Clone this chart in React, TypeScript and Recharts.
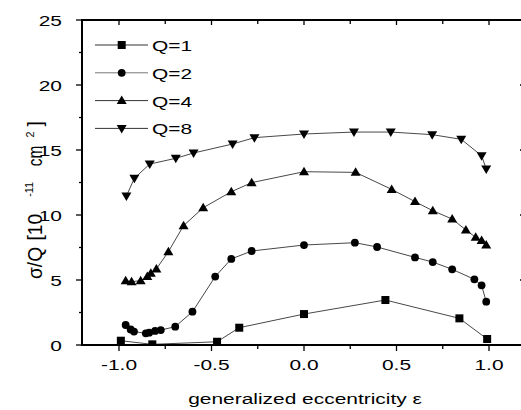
import { LineChart, Line, XAxis, YAxis } from "recharts";

// generalized eccentricity vs sigma/Q, one list per charge state
const q1 = [
  { e: -0.99, s: 0.33 },
  { e: -0.82, s: 0.05 },
  { e: -0.47, s: 0.25 },
  { e: -0.35, s: 1.33 },
  { e: 0.0, s: 2.38 },
  { e: 0.44, s: 3.46 },
  { e: 0.84, s: 2.05 },
  { e: 0.99, s: 0.46 },
];

const q2 = [
  { e: -0.964, s: 1.54 },
  { e: -0.937, s: 1.2 },
  { e: -0.919, s: 1.03 },
  { e: -0.855, s: 0.9 },
  { e: -0.837, s: 0.95 },
  { e: -0.805, s: 1.08 },
  { e: -0.774, s: 1.15 },
  { e: -0.696, s: 1.41 },
  { e: -0.603, s: 2.56 },
  { e: -0.48, s: 5.26 },
  { e: -0.393, s: 6.62 },
  { e: -0.283, s: 7.23 },
  { e: 0.0, s: 7.69 },
  { e: 0.275, s: 7.87 },
  { e: 0.395, s: 7.54 },
  { e: 0.6, s: 6.74 },
  { e: 0.696, s: 6.38 },
  { e: 0.801, s: 5.82 },
  { e: 0.921, s: 5.05 },
  { e: 0.96, s: 4.59 },
  { e: 0.985, s: 3.33 },
];

const q4 = [
  { e: -0.964, s: 4.95 },
  { e: -0.932, s: 4.87 },
  { e: -0.883, s: 4.95 },
  { e: -0.847, s: 5.26 },
  { e: -0.828, s: 5.51 },
  { e: -0.798, s: 5.85 },
  { e: -0.733, s: 7.18 },
  { e: -0.651, s: 9.18 },
  { e: -0.545, s: 10.56 },
  { e: -0.393, s: 11.79 },
  { e: -0.283, s: 12.49 },
  { e: 0.0, s: 13.33 },
  { e: 0.279, s: 13.28 },
  { e: 0.474, s: 11.97 },
  { e: 0.6, s: 11.03 },
  { e: 0.696, s: 10.33 },
  { e: 0.801, s: 9.69 },
  { e: 0.875, s: 8.85 },
  { e: 0.928, s: 8.28 },
  { e: 0.96, s: 8.03 },
  { e: 0.985, s: 7.69 },
];

const q8 = [
  { e: -0.96, s: 11.46 },
  { e: -0.917, s: 12.82 },
  { e: -0.834, s: 13.92 },
  { e: -0.693, s: 14.36 },
  { e: -0.597, s: 14.77 },
  { e: -0.386, s: 15.46 },
  { e: -0.268, s: 15.95 },
  { e: 0.0, s: 16.23 },
  { e: 0.27, s: 16.38 },
  { e: 0.469, s: 16.38 },
  { e: 0.693, s: 16.18 },
  { e: 0.85, s: 15.82 },
  { e: 0.96, s: 14.56 },
  { e: 0.985, s: 13.54 },
];

const seriesNames = ["Q=1", "Q=2", "Q=4", "Q=8"];
const seriesData = [q1, q2, q4, q8];
const markerKinds = ["square", "circle", "up", "down"];

const xTicks = [-1, -0.75, -0.5, -0.25, 0, 0.25, 0.5, 0.75, 1];
const yTicks = [0, 2.5, 5, 7.5, 10, 12.5, 15, 17.5, 20, 22.5, 25];
const X_DOMAIN = [-1.2, 1.2];
const Y_DOMAIN = [0, 25];

const INK = "#000";
const FONT = "'Liberation Sans', Arial, Helvetica, sans-serif";
const WIDE = 1.35;

// plot box edges, set by the chart margins below
const PLOT_LEFT = 82;
const PLOT_TOP = 20;
const PLOT_RIGHT = 526;
const PLOT_BOTTOM = 345;

function Marker({ kind, cx, cy }: { kind: string; cx: number; cy: number }) {
  if (kind === "square")
    return <rect x={cx - 4} y={cy - 4} width={8} height={8} fill={INK} />;
  if (kind === "circle") return <circle cx={cx} cy={cy} r={3.9} fill={INK} />;
  if (kind === "up")
    return (
      <polygon
        points={`${cx},${cy - 5} ${cx + 5},${cy + 3.5} ${cx - 5},${cy + 3.5}`}
        fill={INK}
      />
    );
  return (
    <polygon
      points={`${cx},${cy + 5} ${cx + 5},${cy - 3.5} ${cx - 5},${cy - 3.5}`}
      fill={INK}
    />
  );
}

const isMajorX = (v: number) => Math.abs(v * 2 - Math.round(v * 2)) < 1e-6;
const isMajorY = (v: number) => Math.abs(v / 5 - Math.round(v / 5)) < 1e-6;

function BottomTick({ x, y, payload }: any) {
  const v = payload.value;
  return (
    <g>
      <line x1={x} x2={x} y1={y} y2={y + (isMajorX(v) ? 6 : 4)} stroke={INK} strokeWidth={1.3} />
      {isMajorX(v) && (
        <text
          transform={`translate(${x},${y + 25}) scale(${WIDE},1)`}
          textAnchor="middle"
          fontSize={15.5}
          fontFamily={FONT}
          fill={INK}
        >
          {v.toFixed(1)}
        </text>
      )}
    </g>
  );
}

function LeftTick({ x, y, payload }: any) {
  const v = payload.value;
  return (
    <g>
      <line x1={x - (isMajorY(v) ? 6 : 3)} x2={x} y1={y} y2={y} stroke={INK} strokeWidth={1.3} />
      {isMajorY(v) && (
        <text
          transform={`translate(${x - 20},${y + 5.5}) scale(${WIDE},1)`}
          textAnchor="end"
          fontSize={15.5}
          fontFamily={FONT}
          fill={INK}
        >
          {String(v)}
        </text>
      )}
    </g>
  );
}

// closed box with inward ticks on the top and right edges
function Frame() {
  const px = (v: number) =>
    PLOT_LEFT + ((v - X_DOMAIN[0]) / (X_DOMAIN[1] - X_DOMAIN[0])) * (PLOT_RIGHT - PLOT_LEFT);
  const py = (v: number) =>
    PLOT_BOTTOM - ((v - Y_DOMAIN[0]) / (Y_DOMAIN[1] - Y_DOMAIN[0])) * (PLOT_BOTTOM - PLOT_TOP);
  return (
    <g>
      <rect
        x={PLOT_LEFT}
        y={PLOT_TOP}
        width={PLOT_RIGHT - PLOT_LEFT}
        height={PLOT_BOTTOM - PLOT_TOP}
        fill="none"
        stroke={INK}
        strokeWidth={2}
      />
      <line x1={PLOT_LEFT} x2={PLOT_RIGHT} y1={PLOT_TOP} y2={PLOT_TOP} stroke={INK} strokeWidth={2} />
      {xTicks.map((v) => (
        <line
          key={`t${v}`}
          x1={px(v)}
          x2={px(v)}
          y1={PLOT_TOP}
          y2={PLOT_TOP + (isMajorX(v) ? 5 : 4)}
          stroke={INK}
          strokeWidth={1.3}
        />
      ))}
      {yTicks.map((v) => (
        <line
          key={`r${v}`}
          x1={PLOT_RIGHT - (isMajorY(v) ? 6 : 3)}
          x2={PLOT_RIGHT}
          y1={py(v)}
          y2={py(v)}
          stroke={INK}
          strokeWidth={1.3}
        />
      ))}
    </g>
  );
}

function XTitle() {
  return (
    <text
      transform={`translate(305,404) scale(${WIDE},1)`}
      textAnchor="middle"
      fontSize={15.5}
      fontFamily={FONT}
      fill={INK}
    >
      generalized eccentricity ε
    </text>
  );
}

function YTitle() {
  return (
    <text
      transform="translate(42,279) scale(1.3,1.2) rotate(-90)"
      fontSize={16}
      fontFamily={FONT}
      fill={INK}
    >
      <tspan x={0} y={0}>σ/Q</tspan>
      <tspan x={32} y={0}>[10</tspan>
      <tspan x={68.5} y={-7} fontSize={9}>-11</tspan>
      <tspan x={94} y={0} textLength={17} lengthAdjust="spacingAndGlyphs">cm</tspan>
      <tspan x={118} y={-6} fontSize={9}>2</tspan>
      <tspan x={127} y={0}>]</tspan>
    </text>
  );
}

function LegendBox() {
  return (
    <g transform="translate(95,35)">
      {seriesNames.map((name, i) => {
        const y = 10 + i * 27.8;
        return (
          <g key={name}>
            <line x1={0} x2={53} y1={y} y2={y} stroke={i === 1 ? "#777" : "#333"} strokeWidth={1} />
            <Marker kind={markerKinds[i]} cx={26.7} cy={y} />
            <text
              transform={`translate(57,${y + 6}) scale(${WIDE},1)`}
              fontSize={15.5}
              fontFamily={FONT}
              fill={INK}
            >
              {name}
            </text>
          </g>
        );
      })}
    </g>
  );
}

export default function App() {
  return (
    <div
      style={{
        position: "absolute",
        left: 0,
        top: 0,
        width: 521,
        height: 410,
        overflow: "hidden",
        background: "#fff",
      }}
    >
      <LineChart
        width={540}
        height={410}
        margin={{ top: PLOT_TOP, right: 540 - PLOT_RIGHT, bottom: 0, left: 0 }}
      >
        <XAxis
          type="number"
          dataKey="e"
          domain={X_DOMAIN}
          ticks={xTicks}
          interval={0}
          tickSize={0}
          tickMargin={0}
          tickLine={false}
          tick={<BottomTick />}
          height={410 - PLOT_BOTTOM}
          stroke={INK}
          strokeWidth={1.5}
          allowDataOverflow
        />
        <YAxis
          type="number"
          domain={Y_DOMAIN}
          ticks={yTicks}
          interval={0}
          tickSize={0}
          tickMargin={0}
          tickLine={false}
          tick={<LeftTick />}
          width={PLOT_LEFT}
          stroke={INK}
          strokeWidth={1.5}
          allowDataOverflow
        />
        {seriesData.map((data, i) => (
          <Line
            key={seriesNames[i]}
            name={seriesNames[i]}
            data={data}
            dataKey="s"
            type="linear"
            stroke="#333"
            strokeWidth={0.9}
            isAnimationActive={false}
            dot={(p: any) => (
              <Marker key={`${i}-${p.index}`} kind={markerKinds[i]} cx={p.cx} cy={p.cy} />
            )}
            activeDot={false}
          />
        ))}
        <Frame />
        <LegendBox />
        <XTitle />
        <YTitle />
      </LineChart>
    </div>
  );
}
